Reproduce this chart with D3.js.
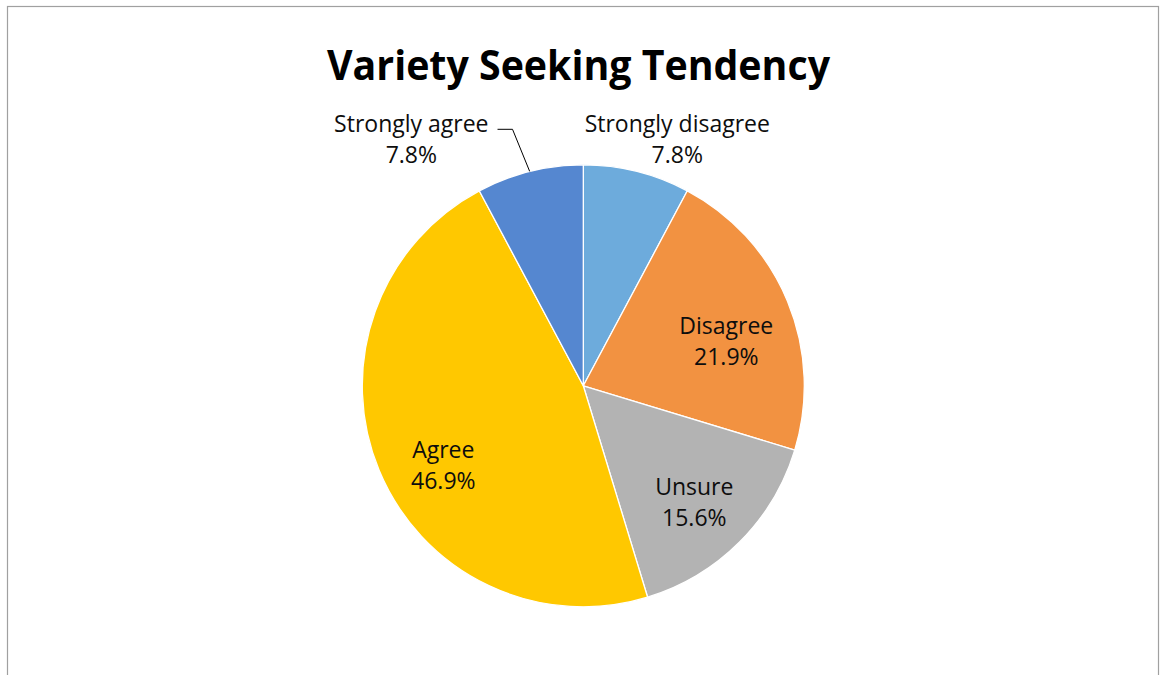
<!DOCTYPE html>
<html>
<head>
<meta charset="utf-8">
<script src="https://cdn.jsdelivr.net/npm/d3@7"></script>
<style>
  body { margin: 0; background: #fff; }
  svg { display: block; }
  text { font-family: "Open Sans", "Liberation Sans", sans-serif; }
</style>
</head>
<body>
<svg id="chart" width="1161" height="675"></svg>
<script>
// data, clockwise from 12 o'clock
var categories = ["Strongly disagree", "Disagree", "Unsure", "Agree", "Strongly agree"];
var percents = [7.8, 21.9, 15.6, 46.9, 7.8];
var sliceColors = ["#6DABDC", "#F29241", "#B3B3B3", "#FFC800", "#5587D0"];

var titleText = "Variety Seeking Tendency";

// label anchor (center x, first baseline) relative to the pie centre
var labelNudge = {
	"Strongly disagree": [94, -254],
	"Disagree": [143, -52],
	"Unsure": [111, 109],
	"Agree": [-140, 72],
	"Strongly agree": [-172, -254]
};

var svg = d3.select("#chart");
var svgWidth = +svg.attr("width");
var svgHeight = +svg.attr("height");

// chart area border
svg.append("rect")
	.attr("x", 7.5)
	.attr("y", 6.5)
	.attr("width", 1151)
	.attr("height", svgHeight + 20)
	.attr("fill", "none")
	.attr("stroke", "#a0a0a0")
	.attr("stroke-width", 1.2);

// title
var title = svg.append("text")
	.attr("x", 578.5)
	.attr("y", 80)
	.attr("text-anchor", "middle")
	.style("font-size", "41px")
	.style("font-weight", "bold")
	.attr("fill", "#000")
	.text(titleText);
var titleLen = title.node().getComputedTextLength();
if (Math.abs(titleLen - 503) > 4) {
	title.attr("textLength", 503).attr("lengthAdjust", "spacingAndGlyphs");
}

var cx = 583.3, cy = 385.8, radius = 221;

var data = categories.map(function(c, i) {
	return {name: c, value: percents[i], color: sliceColors[i]};
});

var pie = d3.pie()
	.sort(null)
	.value(function(d) { return d.value; });

var arc = d3.arc()
	.innerRadius(0)
	.outerRadius(radius);

var pieG = svg.append("g")
	.attr("transform", "translate(" + [cx, cy] + ")");

var arcs = pie(data);

pieG.selectAll("path.slice")
	.data(arcs)
	.enter()
	.append("path")
	.attr("class", "slice")
	.attr("d", arc)
	.attr("fill", function(d) { return d.data.color; })
	.attr("stroke", "#fff")
	.attr("stroke-width", 1.3)
	.attr("stroke-linejoin", "round");

var lineGap = 31.5;

var labels = pieG.selectAll("text.lbl")
	.data(arcs)
	.enter()
	.append("text")
	.attr("class", "lbl")
	.attr("text-anchor", "middle")
	.style("font-size", "23px")
	.attr("fill", "#0d0d0d");

labels.append("tspan")
	.attr("x", function(d) { return labelNudge[d.data.name][0]; })
	.attr("y", function(d) { return labelNudge[d.data.name][1]; })
	.text(function(d) { return d.data.name; });

labels.append("tspan")
	.attr("x", function(d) { return labelNudge[d.data.name][0]; })
	.attr("y", function(d) { return labelNudge[d.data.name][1] + lineGap; })
	.text(function(d) { return d3.format(".1f")(d.data.value) + "%"; });

// leader line for the "Strongly agree" label
var sa = arcs[categories.indexOf("Strongly agree")];
var mid = (sa.startAngle + sa.endAngle) / 2;
var edge = [Math.sin(mid) * radius, -Math.cos(mid) * radius];
var saLabel = labels.filter(function(d) { return d.data.name === "Strongly agree"; });
var bb = saLabel.select("tspan").node().getBBox();
var yLine = labelNudge["Strongly agree"][1] - 2.5;
pieG.append("path")
	.attr("d", d3.line()([
		[bb.x + bb.width + 9, yLine],
		[bb.x + bb.width + 24, yLine],
		edge
	]))
	.attr("fill", "none")
	.attr("stroke", "#000")
	.attr("stroke-width", 1);
</script>
</body>
</html>
